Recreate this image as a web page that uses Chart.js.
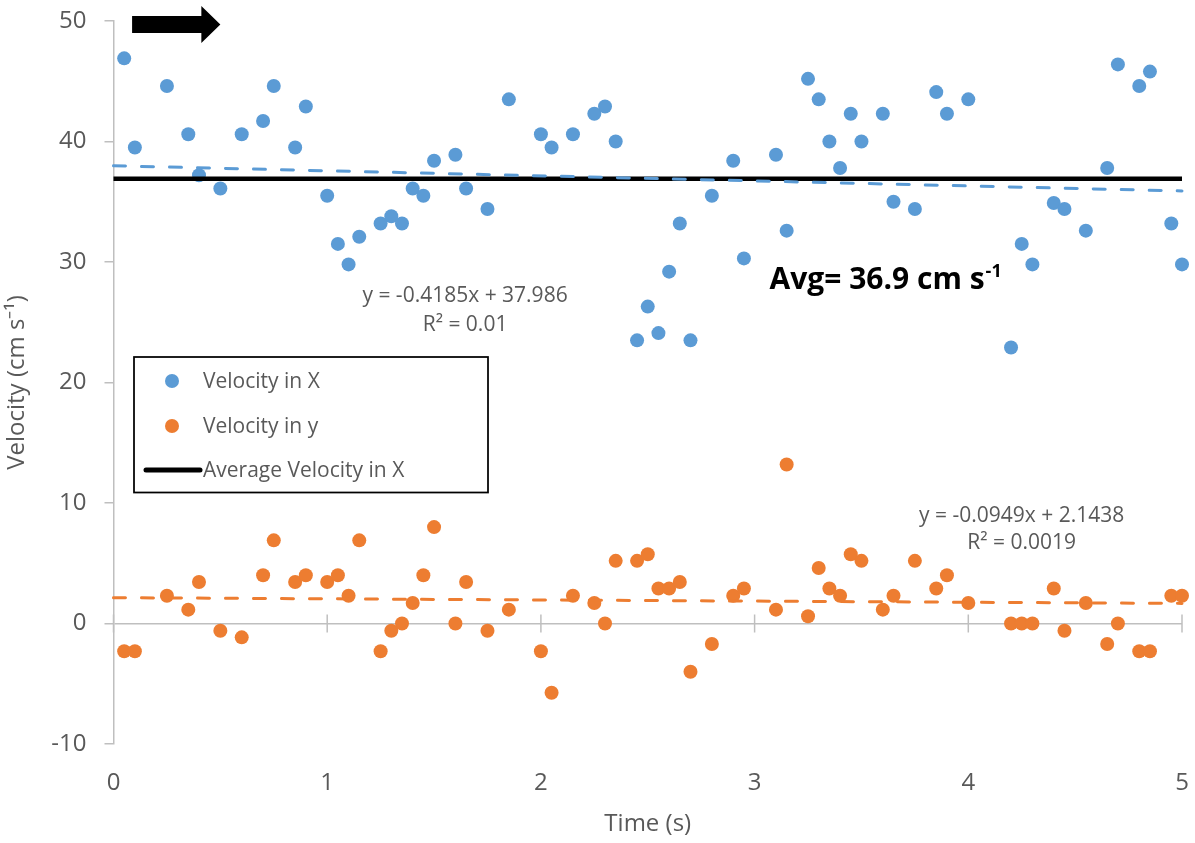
<!DOCTYPE html>
<html>
<head>
<meta charset="utf-8">
<script src="https://cdn.jsdelivr.net/npm/chart.js@4.4.1/dist/chart.umd.min.js"></script>
<style>
  html, body { margin: 0; padding: 0; background: #fff; }
  #wrap { width: 1195px; height: 843px; position: relative; }
</style>
</head>
<body>
<div id="wrap"><canvas id="velocityChart"></canvas></div>
<script>
// time stamps (s), shared by both velocity series
const timeValues = [
  0.05, 0.10, 0.25, 0.35, 0.40, 0.50, 0.60, 0.70, 0.75, 0.85,
  0.90, 1.00, 1.05, 1.10, 1.15, 1.25, 1.30, 1.35, 1.40, 1.45,
  1.50, 1.60, 1.65, 1.75, 1.85, 2.00, 2.05, 2.15, 2.25, 2.30,
  2.35, 2.45, 2.50, 2.55, 2.60, 2.65, 2.70, 2.80, 2.90, 2.95,
  3.10, 3.15, 3.25, 3.30, 3.35, 3.40, 3.45, 3.50, 3.60, 3.65,
  3.75, 3.85, 3.90, 4.00, 4.20, 4.25, 4.30, 4.40, 4.45, 4.55,
  4.65, 4.70, 4.80, 4.85, 4.95, 5.00
];
const velocityX = [
  46.9, 39.5, 44.6, 40.6, 37.2, 36.1, 40.6, 41.7, 44.6, 39.5,
  42.9, 35.5, 31.5, 29.8, 32.1, 33.2, 33.8, 33.2, 36.1, 35.5,
  38.4, 38.9, 36.1, 34.4, 43.5, 40.6, 39.5, 40.6, 42.3, 42.9,
  40.0, 23.5, 26.3, 24.1, 29.2, 33.2, 23.5, 35.5, 38.4, 30.3,
  38.9, 32.6, 45.2, 43.5, 40.0, 37.8, 42.3, 40.0, 42.3, 35.0,
  34.4, 44.1, 42.3, 43.5, 22.9, 31.5, 29.8, 34.9, 34.4, 32.6,
  37.8, 46.4, 44.6, 45.8, 33.2, 29.8
];
const velocityY = [
  -2.3, -2.3, 2.3, 1.15, 3.45, -0.6, -1.15, 4.0, 6.9, 3.45,
  4.0, 3.45, 4.0, 2.3, 6.9, -2.3, -0.6, 0.0, 1.7, 4.0,
  8.0, 0.0, 3.45, -0.6, 1.15, -2.3, -5.75, 2.3, 1.7, 0.0,
  5.2, 5.2, 5.75, 2.9, 2.9, 3.45, -4.0, -1.7, 2.3, 2.9,
  1.15, 13.2, 0.6, 4.6, 2.9, 2.3, 5.75, 5.2, 1.15, 2.3,
  5.2, 2.9, 4.0, 1.7, 0.0, 0.0, 0.0, 2.9, -0.6, 1.7,
  -1.7, 0.0, -2.3, -2.3, 2.3, 2.3
];
// linear trendlines and the average line, end points at t = 0 and t = 5
const lineTimes = [0, 5];
const trendVelX = [37.986, 35.894];
const trendVelY = [2.144, 1.669];
const avgVelX = [36.9, 36.9];
// axis ticks
const xTicks = [0, 1, 2, 3, 4, 5];
const yTicks = [-10, 0, 10, 20, 30, 40, 50];

const BLUE = '#5B9BD5';
const ORANGE = '#ED7D31';
const GREY_TEXT = '#595959';
const AXIS_GREY = '#BFBFBF';
const FONT = "'Open Sans', sans-serif";

const toPoints = (xs, ys) => xs.map((t, i) => ({ x: t, y: ys[i] }));

Chart.defaults.font.family = FONT;
Chart.defaults.color = GREY_TEXT;

// draws the x ticks on the zero line, the arrow, the text boxes and the legend
const overlayPlugin = {
  id: 'overlay',
  beforeDatasetsDraw(chart) {
    const { ctx, scales: { x, y } } = chart;
    const y0 = y.getPixelForValue(0);
    ctx.save();
    ctx.strokeStyle = AXIS_GREY;
    ctx.lineWidth = 1.5;
    xTicks.forEach(v => {
      const px = x.getPixelForValue(v);
      ctx.beginPath();
      ctx.moveTo(px, y0 - 9);
      ctx.lineTo(px, y0 + 9);
      ctx.stroke();
    });
    ctx.restore();
  },
  afterDraw(chart) {
    const { ctx, chartArea, scales: { x, y } } = chart;
    ctx.save();

    // arrow in the top left corner
    const ax0 = x.getPixelForValue(0.087);
    const ax1 = x.getPixelForValue(0.5);
    const ay = y.getPixelForValue(49.7);
    ctx.fillStyle = '#000';
    ctx.beginPath();
    ctx.moveTo(ax0, ay - 8.5);
    ctx.lineTo(ax1 - 19, ay - 8.5);
    ctx.lineTo(ax1 - 19, ay - 18.5);
    ctx.lineTo(ax1, ay);
    ctx.lineTo(ax1 - 19, ay + 18.5);
    ctx.lineTo(ax1 - 19, ay + 8.5);
    ctx.lineTo(ax0, ay + 8.5);
    ctx.closePath();
    ctx.fill();

    // trendline labels
    ctx.fillStyle = GREY_TEXT;
    ctx.font = '21px ' + FONT;
    ctx.textAlign = 'center';
    ctx.textBaseline = 'middle';
    ctx.fillText('y = -0.4185x + 37.986', x.getPixelForValue(1.645), y.getPixelForValue(27.16));
    ctx.fillText('R\u00B2 = 0.01', x.getPixelForValue(1.645), y.getPixelForValue(24.8));
    ctx.fillText('y = -0.0949x + 2.1438', x.getPixelForValue(4.25), y.getPixelForValue(8.94));
    ctx.fillText('R\u00B2 = 0.0019', x.getPixelForValue(4.25), y.getPixelForValue(6.69));

    // average label with superscript
    ctx.fillStyle = '#000';
    ctx.textAlign = 'left';
    ctx.textBaseline = 'alphabetic';
    ctx.font = 'bold 30px ' + FONT;
    const avgX = x.getPixelForValue(3.07);
    const avgY = y.getPixelForValue(27.8);
    const main = 'Avg= 36.9 cm s';
    ctx.fillText(main, avgX, avgY);
    const w = ctx.measureText(main).width;
    ctx.font = 'bold 18px ' + FONT;
    ctx.fillText('-1', avgX + w + 1, avgY - 12);

    // legend box
    const lx = chartArea.left + 20.5;
    const ly = chartArea.top + 336;
    ctx.fillStyle = '#fff';
    ctx.fillRect(lx, ly, 354, 135.5);
    ctx.strokeStyle = '#000';
    ctx.lineWidth = 1.75;
    ctx.strokeRect(lx, ly, 354, 135.5);
    const rows = [24, 69, 113];
    const items = chart.data.datasets.filter(d => d.legendRow !== undefined)
      .sort((a, b) => a.legendRow - b.legendRow);
    ctx.font = '21px ' + FONT;
    ctx.textBaseline = 'middle';
    items.forEach((d, i) => {
      const ry = ly + rows[i];
      if (d.showLine) {
        ctx.strokeStyle = d.borderColor;
        ctx.lineWidth = 5;
        ctx.lineCap = 'round';
        ctx.beginPath();
        ctx.moveTo(lx + 12, ry);
        ctx.lineTo(lx + 66, ry);
        ctx.stroke();
      } else {
        ctx.fillStyle = d.backgroundColor;
        ctx.beginPath();
        ctx.arc(lx + 38, ry, 7, 0, Math.PI * 2);
        ctx.fill();
      }
      ctx.fillStyle = GREY_TEXT;
      ctx.fillText(d.label, lx + 69, ry + 1);
    });
    ctx.restore();
  }
};

const config = {
  type: 'scatter',
  data: {
    datasets: [
      {
        label: 'Trend X',
        data: toPoints(lineTimes, trendVelX),
        showLine: true,
        borderColor: BLUE,
        borderWidth: 3,
        borderDash: [12, 16],
        borderCapStyle: 'round',
        pointRadius: 0,
        order: 0,
        clip: false
      },
      {
        label: 'Trend y',
        data: toPoints(lineTimes, trendVelY),
        showLine: true,
        borderColor: ORANGE,
        borderWidth: 3,
        borderDash: [12, 16],
        borderCapStyle: 'round',
        pointRadius: 0,
        order: 0,
        clip: false
      },
      {
        label: 'Average Velocity in X',
        legendRow: 2,
        data: toPoints(lineTimes, avgVelX),
        showLine: true,
        borderColor: '#000',
        borderWidth: 4.5,
        pointRadius: 0,
        order: 1,
        clip: false
      },
      {
        label: 'Velocity in X',
        legendRow: 0,
        data: toPoints(timeValues, velocityX),
        backgroundColor: BLUE,
        borderWidth: 0,
        pointRadius: 7,
        order: 2,
        clip: false
      },
      {
        label: 'Velocity in y',
        legendRow: 1,
        data: toPoints(timeValues, velocityY),
        backgroundColor: ORANGE,
        borderWidth: 0,
        pointRadius: 7,
        order: 2,
        clip: false
      }
    ]
  },
  options: {
    responsive: true,
    maintainAspectRatio: false,
    animation: false,
    layout: { padding: { top: 21, right: 13, left: 0, bottom: 0 } },
    plugins: {
      legend: { display: false },
      tooltip: { enabled: false }
    },
    scales: {
      x: {
        type: 'linear',
        min: 0,
        max: 5,
        afterBuildTicks: s => { s.ticks = xTicks.map(v => ({ value: v })); },
        afterFit: s => {
          s.height = 99;
          s.paddingLeft = 0;
          s.paddingRight = 0;
        },
        grid: { display: false, drawTicks: false },
        border: { display: false },
        ticks: { font: { size: 24 }, padding: 25, color: GREY_TEXT, maxRotation: 0 },
        title: {
          display: true,
          text: 'Time (s)',
          font: { size: 24 },
          color: GREY_TEXT,
          padding: { top: 0, bottom: 4 }
        }
      },
      y: {
        type: 'linear',
        min: -10,
        max: 50,
        afterBuildTicks: s => { s.ticks = yTicks.map(v => ({ value: v })); },
        afterFit: s => {
          s.width = 113.5;
          s.paddingTop = 0;
          s.paddingBottom = 0;
        },
        grid: {
          color: c => (c.tick && c.tick.value === 0 ? AXIS_GREY : 'rgba(0,0,0,0)'),
          tickColor: AXIS_GREY,
          tickLength: 9,
          lineWidth: 1.5
        },
        border: { display: true, color: AXIS_GREY, width: 1.5 },
        ticks: { font: { size: 24 }, padding: 18, color: GREY_TEXT },
        title: {
          display: true,
          text: 'Velocity (cm s\u207B\u00B9)',
          font: { size: 24 },
          color: GREY_TEXT,
          padding: { top: 3, bottom: 0 }
        }
      }
    }
  },
  plugins: [overlayPlugin]
};

window.velocityChart = new Chart(document.getElementById('velocityChart'), config);
</script>
</body>
</html>
